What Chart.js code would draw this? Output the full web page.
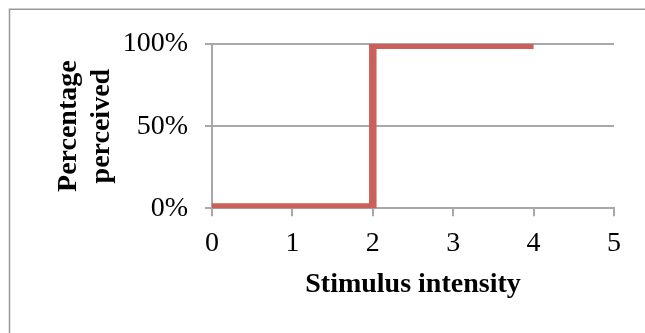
<!DOCTYPE html>
<html>
<head>
<meta charset="utf-8">
<script src="https://cdn.jsdelivr.net/npm/chart.js@4/dist/chart.umd.min.js"></script>
<style>
  html, body { margin: 0; padding: 0; background: #ffffff; overflow: hidden; }
  #wrap { width: 645px; height: 333px; position: relative; }
  #chart { display: block; }
</style>
</head>
<body>
<div id="wrap"><canvas id="chart" width="645" height="333"></canvas></div>
<script>
// Step response: perception switches from none to full at intensity 2
const intensity = [0, 2, 2, 4];
const perceived = [0, 0, 100, 100];
const xTicks = [0, 1, 2, 3, 4, 5];
const yTicks = [0, 50, 100];
const xTitle = 'Stimulus intensity';
const yTitle = ['Percentage', 'perceived'];

const points = intensity.map((x, i) => ({ x: x, y: perceived[i] }));

const SERIF = '"Liberation Serif", "Times New Roman", serif';
const GRID = '#a8a8a8';
const LINE = '#cb5f59';

// Thin frame around the whole chart object
const framePlugin = {
  id: 'frame',
  beforeDraw(chart) {
    const ctx = chart.ctx;
    ctx.save();
    ctx.fillStyle = '#ffffff';
    ctx.fillRect(0, 0, chart.width, chart.height);
    ctx.strokeStyle = '#999999';
    ctx.lineWidth = 1.5;
    ctx.strokeRect(9.5, 9.25, chart.width + 20, chart.height + 20);
    ctx.restore();
  }
};

new Chart(document.getElementById('chart'), {
  type: 'scatter',
  data: {
    datasets: [{
      data: points,
      showLine: true,
      borderColor: LINE,
      backgroundColor: LINE,
      borderWidth: 7.5,
      // level runs are wider and clipped by the plot edge, so they sit inside it
      segment: {
        borderWidth: ctx => (ctx.p0.parsed.y === ctx.p1.parsed.y ? 10 : 7.5)
      },
      clip: 0,
      pointRadius: 0,
      pointHoverRadius: 0,
      borderJoinStyle: 'miter',
      borderCapStyle: 'butt',
      tension: 0
    }]
  },
  options: {
    responsive: false,
    animation: false,
    devicePixelRatio: 1,
    layout: { padding: { left: 12, right: 31, top: 44, bottom: 31 } },
    plugins: {
      legend: { display: false },
      tooltip: { enabled: false }
    },
    scales: {
      x: {
        type: 'linear',
        min: 0,
        max: 5,
        afterFit(scale) { scale.height = 93.7; },
        afterBuildTicks(scale) { scale.ticks = xTicks.map(v => ({ value: v })); },
        ticks: {
          color: '#000000',
          font: { family: SERIF, size: 28 },
          padding: 11,
          maxRotation: 0,
          autoSkip: false
        },
        grid: {
          drawOnChartArea: false,
          drawTicks: true,
          tickLength: 8,
          color: GRID,
          lineWidth: 2
        },
        border: { display: true, color: GRID, width: 2 },
        title: {
          display: true,
          text: xTitle,
          color: '#000000',
          font: { family: SERIF, size: 28, weight: 'bold', lineHeight: 1.2 },
          padding: 0
        }
      },
      y: {
        type: 'linear',
        min: 0,
        max: 100,
        afterFit(scale) { scale.width = 200; },
        afterBuildTicks(scale) { scale.ticks = yTicks.map(v => ({ value: v })); },
        ticks: {
          color: '#000000',
          font: { family: SERIF, size: 28 },
          padding: 17,
          callback: v => v + '%'
        },
        grid: {
          drawOnChartArea: true,
          drawTicks: true,
          tickLength: 7,
          color: GRID,
          lineWidth: 2
        },
        border: { display: true, color: GRID, width: 2 },
        title: {
          display: true,
          text: yTitle,
          color: '#000000',
          font: { family: SERIF, size: 28, weight: 'bold', lineHeight: 1.15 },
          padding: { top: 41, bottom: 0 }
        }
      }
    }
  },
  plugins: [framePlugin]
});
</script>
</body>
</html>
